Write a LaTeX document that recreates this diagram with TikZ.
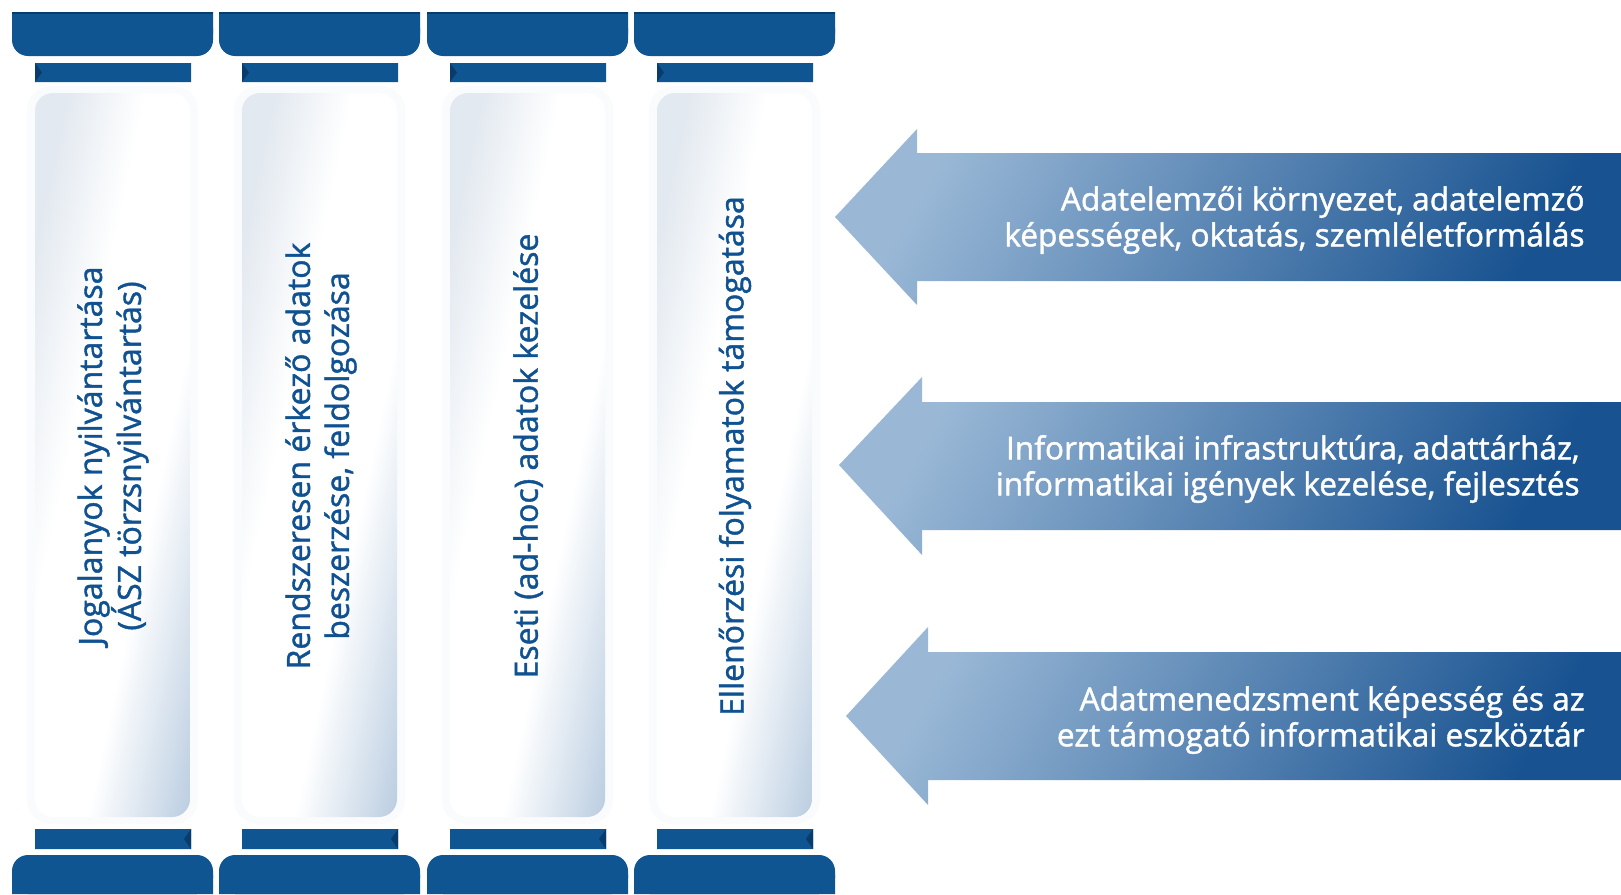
\documentclass[tikz,border=0pt]{standalone}
\usepackage{fontspec}
\setmainfont{Open Sans}[FakeBold=1.3]
\usepackage{tikz}
\definecolor{capblue}{HTML}{0F5592}
\definecolor{capdark}{HTML}{0A3C6B}
\definecolor{txtblue}{HTML}{0F5191}
\definecolor{arrlight}{HTML}{9AB8D6}
\definecolor{arrdark}{HTML}{185290}
\definecolor{shaftgray}{HTML}{E3E9F0}
\definecolor{shaftblue}{HTML}{B9CCE0}
\definecolor{halo}{HTML}{FAFBFC}
\pgfdeclarehorizontalshading{shaftshade}{100bp}{color(0bp)=(shaftgray); color(22bp)=(shaftgray);
  color(40bp)=(white); color(62bp)=(white); color(86bp)=(shaftblue); color(100bp)=(shaftblue)}
\tikzset{
  capfill/.style={fill=capblue},
  bevel/.style={fill=capdark},
  shaft/.style={shading=shaftshade,shading angle=-45},
  coltxt/.style={rotate=90,align=center,text=txtblue,
                 font=\fontsize{16}{19.5}\selectfont},
  bigarr/.style={left color=arrlight,right color=arrdark,shading angle=60},
  arrtxt/.style={anchor=east,align=right,text=white,inner sep=0pt,
                 font=\fontsize{15.8}{18}\selectfont},
}
\begin{document}
\begin{tikzpicture}[x=0.5pt,y=-0.5pt]
  \useasboundingbox (0,0) rectangle (1621,894);
  % soft glow round the shafts
  \fill[halo,rounded corners=12pt] (27,86) rectangle (198,824) (234,86) rectangle (405,824)
        (442,86) rectangle (613,824) (649,86) rectangle (820,824);
  % top caps
  \fill[capfill] (12,12) rectangle (213,34) (219,12) rectangle (420,34)
        (427,12) rectangle (628,34) (634,12) rectangle (835,34);
  \fill[capfill,rounded corners=8pt] (12,12) rectangle (213,56) (219,12) rectangle (420,56)
        (427,12) rectangle (628,56) (634,12) rectangle (835,56);
  \draw[capdark,line width=1pt] (12,13) -- (213,13) (219,13) -- (420,13)
        (427,13) -- (628,13) (634,13) -- (835,13);
  % top bars
  \fill[capfill] (35,63) rectangle (191,82) (242,63) rectangle (398,82)
        (450,63) rectangle (606,82) (657,63) rectangle (813,82);
  \fill[bevel] (35,63) -- (42,72.5) -- (35,82) -- cycle (242,63) -- (249,72.5) -- (242,82) -- cycle
        (450,63) -- (457,72.5) -- (450,82) -- cycle (657,63) -- (664,72.5) -- (657,82) -- cycle;
  % shafts (shading drawn in a unit square, stretched onto the shaft)
  \begin{scope}
    \clip[rounded corners=9pt] (35,93) rectangle (190,817);
    \shade[shaft,transform canvas={shift={(35,93)},xscale=0.775,yscale=3.62}] (0pt,0pt) rectangle (100pt,-100pt);
  \end{scope}
  \begin{scope}
    \clip[rounded corners=9pt] (242,93) rectangle (397,817);
    \shade[shaft,transform canvas={shift={(242,93)},xscale=0.775,yscale=3.62}] (0pt,0pt) rectangle (100pt,-100pt);
  \end{scope}
  \begin{scope}
    \clip[rounded corners=9pt] (450,93) rectangle (605,817);
    \shade[shaft,transform canvas={shift={(450,93)},xscale=0.775,yscale=3.62}] (0pt,0pt) rectangle (100pt,-100pt);
  \end{scope}
  \begin{scope}
    \clip[rounded corners=9pt] (657,93) rectangle (812,817);
    \shade[shaft,transform canvas={shift={(657,93)},xscale=0.775,yscale=3.62}] (0pt,0pt) rectangle (100pt,-100pt);
  \end{scope}
  % bottom bars
  \fill[capfill] (35,829) rectangle (191,849) (242,829) rectangle (398,849)
        (450,829) rectangle (606,849) (657,829) rectangle (813,849);
  \fill[bevel] (191,829) -- (184,839) -- (191,849) -- cycle (398,829) -- (391,839) -- (398,849) -- cycle
        (606,829) -- (599,839) -- (606,849) -- cycle (813,829) -- (806,839) -- (813,849) -- cycle;
  % bottom caps
  \fill[capfill] (12,875) rectangle (213,894) (219,875) rectangle (420,894)
        (427,875) rectangle (628,894) (634,875) rectangle (835,894);
  \fill[capfill,rounded corners=8pt] (12,855) rectangle (213,894) (219,855) rectangle (420,894)
        (427,855) rectangle (628,894) (634,855) rectangle (835,894);
  % pillar labels
  \node[coltxt] (jogalany) at (113,456) {Jogalanyok nyilvántartása\\(ÁSZ törzsnyilvántartás)};
  \node[coltxt] (rendszeres) at (321,456) {Rendszeresen érkező adatok\\beszerzése, feldolgozása};
  \node[coltxt] (eseti) at (528,456) {Eseti (ad-hoc) adatok kezelése};
  \node[coltxt] (ellenorzes) at (735,456) {Ellenőrzési folyamatok támogatása};
  % arrows from the right
  \shade[bigarr] (835,217) -- (917,129) -- (917,153) -- (1621,153) -- (1621,281)
        -- (917,281) -- (917,305) -- cycle;
  \shade[bigarr] (839,465) -- (922,377) -- (922,402) -- (1621,402) -- (1621,530)
        -- (922,530) -- (922,555) -- cycle;
  \shade[bigarr] (846,716) -- (928,627) -- (928,652) -- (1621,652) -- (1621,780)
        -- (928,780) -- (928,805) -- cycle;
  \node[arrtxt] (elemzo) at (1585,220) {Adatelemzői környezet, adatelemző\\képességek, oktatás, szemléletformálás};
  \node[arrtxt] (infra) at (1580,469) {Informatikai infrastruktúra, adattárház,\\informatikai igények kezelése, fejlesztés};
  \node[arrtxt] (adatmen) at (1585,720) {Adatmenedzsment képesség és az\\ezt támogató informatikai eszköztár};
\end{tikzpicture}
\end{document}
